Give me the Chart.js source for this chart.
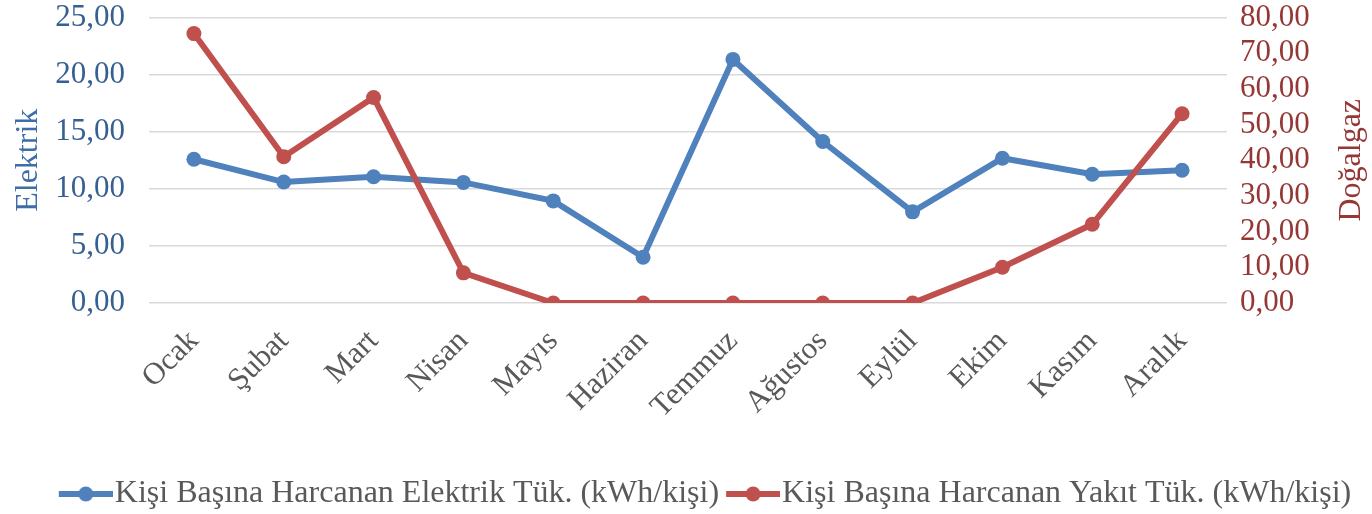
<!DOCTYPE html>
<html lang="tr">
<head>
<meta charset="UTF-8">
<title>Elektrik ve Doğalgaz Tüketimi</title>
<script src="https://cdn.jsdelivr.net/npm/chart.js"></script>
<style>
    html, body { margin: 0; padding: 0; background: #fff; }
    #wrap { width: 1372px; height: 514px; }
</style>
</head>
<body>
<div id="wrap"><canvas id="grafik"></canvas></div>
<script>
    // veriler
    const aylar = ['Ocak', 'Şubat', 'Mart', 'Nisan', 'Mayıs', 'Haziran', 'Temmuz', 'Ağustos', 'Eylül', 'Ekim', 'Kasım', 'Aralık'];
    const elektrik = [12.59, 10.59, 11.06, 10.56, 8.94, 4.01, 21.33, 14.14, 7.98, 12.68, 11.27, 11.62];
    const dogalgaz = [75.49, 41.00, 57.60, 8.45, 0, 0, 0, 0, 0, 10.03, 22.06, 53.04];
    const solEksenBaslik = 'Elektrik';
    const sagEksenBaslik = 'Doğalgaz';
    const seriAdlari = ['Kişi Başına Harcanan Elektrik Tük. (kWh/kişi)', 'Kişi Başına Harcanan Yakıt Tük. (kWh/kişi)'];

    const MAVI = '#4F81BD';
    const KIRMIZI = '#C0504D';
    const FONT = "'Liberation Serif', 'Times New Roman', serif";

    // legend icin cizgi + nokta simgesi (solda bos pay birakildi)
    function simge(renk) {
        const c = document.createElement('canvas');
        c.width = 70; c.height = 18;
        const g = c.getContext('2d');
        g.strokeStyle = renk; g.lineWidth = 6;
        g.beginPath(); g.moveTo(16, 9); g.lineTo(70, 9); g.stroke();
        g.fillStyle = renk;
        g.beginPath(); g.arc(43, 9, 7.5, 0, Math.PI * 2); g.fill();
        return c;
    }

    const virgul = v => v.toFixed(2).replace('.', ',');

    // sag eksen basligi asagidan yukari okunuyor
    const sagBaslik = {
        id: 'sagBaslik',
        afterLayout(chart) {
            // legend biraz saga ve asagi
            const l = chart.legend;
            l.left += 18; l.right += 18;
            l.top += 6; l.bottom += 6;
        },
        afterDraw(chart) {
            const s = chart.scales.y2;
            const ctx = chart.ctx;
            ctx.save();
            ctx.translate(s.right - 20, (s.top + s.bottom) / 2);
            ctx.rotate(-Math.PI / 2);
            ctx.font = '32px ' + FONT;
            ctx.fillStyle = '#953735';
            ctx.textAlign = 'center';
            ctx.textBaseline = 'middle';
            ctx.fillText(sagEksenBaslik, 0, 0);
            ctx.restore();
        }
    };

    new Chart(document.getElementById('grafik'), {
        type: 'line',
        data: {
            labels: aylar,
            datasets: [{
                label: seriAdlari[0],
                data: elektrik,
                yAxisID: 'y',
                borderColor: MAVI,
                backgroundColor: MAVI,
                borderWidth: 6,
                pointRadius: 7.5,
                pointHoverRadius: 7.5,
                pointBackgroundColor: MAVI,
                pointBorderWidth: 0,
                order: 2
            }, {
                label: seriAdlari[1],
                data: dogalgaz,
                yAxisID: 'y2',
                borderColor: KIRMIZI,
                backgroundColor: KIRMIZI,
                borderWidth: 6,
                pointRadius: 7.5,
                pointHoverRadius: 7.5,
                pointBackgroundColor: KIRMIZI,
                pointBorderWidth: 0,
                order: 1
            }]
        },
        options: {
            responsive: true,
            maintainAspectRatio: false,
            animation: false,
            layout: { padding: { top: 2, left: 0, right: 0, bottom: 0 } },
            plugins: {
                tooltip: { enabled: false },
                legend: {
                    position: 'bottom',
                    labels: {
                        font: { family: FONT, size: 32 },
                        color: '#595959',
                        padding: 5,
                        usePointStyle: true,
                        pointStyleWidth: 42,
                        boxHeight: 18,
                        sort: (a, b) => a.datasetIndex - b.datasetIndex,
                        generateLabels: chart => chart.data.datasets.map((d, i) => ({
                            text: d.label,
                            pointStyle: simge(d.borderColor),
                            fillStyle: d.borderColor,
                            strokeStyle: d.borderColor,
                            lineWidth: 0,
                            fontColor: '#595959',
                            datasetIndex: i,
                            hidden: false
                        }))
                    }
                }
            },
            scales: {
                x: {
                    offset: true,
                    grid: { display: false },
                    border: { display: false },
                    ticks: {
                        font: { family: FONT, size: 31 },
                        color: '#595959',
                        maxRotation: 45,
                        minRotation: 45,
                        padding: 12,
                        autoSkip: false
                    },
                    afterFit: s => { s.height = 164; }
                },
                y: {
                    position: 'left',
                    min: 0,
                    max: 25,
                    ticks: {
                        stepSize: 5,
                        autoSkip: false,
                        font: { family: FONT, size: 31, lineHeight: 1 },
                        color: '#376092',
                        padding: 2,
                        callback: v => virgul(v)
                    },
                    grid: { color: '#D9D9D9', lineWidth: 1.5, drawTicks: true, tickLength: 22, tickColor: 'rgba(0,0,0,0)' },
                    border: { display: false },
                    title: {
                        display: true,
                        text: solEksenBaslik,
                        font: { family: FONT, size: 32 },
                        color: '#3F6DA6',
                        padding: { top: 9, bottom: 0 }
                    },
                    afterFit: s => { s.width = 149; }
                },
                y2: {
                    position: 'right',
                    min: 0,
                    max: 80,
                    ticks: {
                        stepSize: 10,
                        autoSkip: false,
                        font: { family: FONT, size: 31, lineHeight: 1 },
                        color: '#953735',
                        padding: 2,
                        callback: v => virgul(v)
                    },
                    grid: { display: false, drawOnChartArea: false, drawTicks: true, tickLength: 11, tickColor: 'rgba(0,0,0,0)' },
                    border: { display: false },
                    afterFit: s => { s.width = 145; }
                }
            }
        },
        plugins: [sagBaslik]
    });
</script>
</body>
</html>
